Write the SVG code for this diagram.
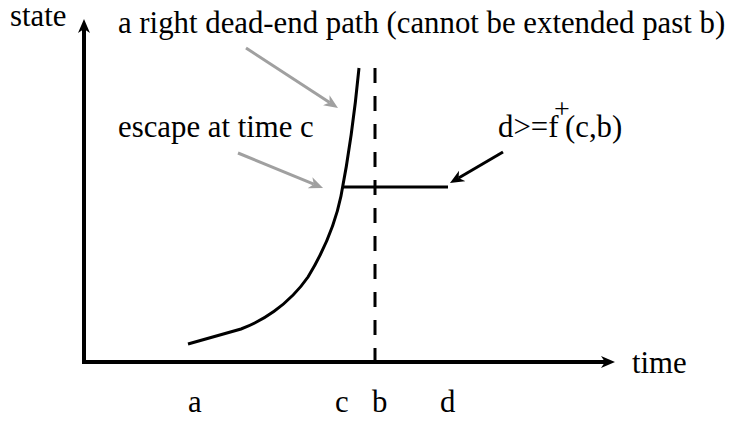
<svg xmlns="http://www.w3.org/2000/svg" width="731" height="423" viewBox="0 0 731 423">
<style>
text { font-family: 'Liberation Serif', 'Times New Roman', Times, serif; font-size: 30.8px; fill: #000; }
.ax { stroke: #000; stroke-width: 4; fill: none; }
.ln { stroke: #000; stroke-width: 3; fill: none; }
.gr { stroke: #a0a0a0; stroke-width: 3; fill: none; }
</style>
<defs>
<marker id="ab" markerUnits="userSpaceOnUse" markerWidth="16" markerHeight="14" viewBox="0 -7 16 14" refX="4" refY="0" orient="auto">
<path d="M0,-6 L14,0 L0,6 L4,0 Z" fill="#000"/>
</marker>
<marker id="ag" markerUnits="userSpaceOnUse" markerWidth="16" markerHeight="14" viewBox="0 -7 16 14" refX="4" refY="0" orient="auto">
<path d="M0,-6 L14,0 L0,6 L4,0 Z" fill="#a0a0a0"/>
</marker>
</defs>
<g id="axes">
<line class="ax" x1="84" y1="364" x2="84" y2="29" marker-end="url(#ab)"/>
<line class="ax" x1="82" y1="362" x2="605" y2="362" marker-end="url(#ab)"/>
</g>
<g id="path-curve">
<path class="ln" d="M188,344 L241,329 C260,322 288,306 308,277 C322,254 335,225 341,196 C348,160 354,120 359,68"/>
</g>
<g id="barrier-b">
<line class="ln" x1="375" y1="68" x2="375" y2="362" stroke-dasharray="15 13"/>
</g>
<g id="escape-line">
<line class="ln" x1="343" y1="187" x2="448" y2="187"/>
</g>
<g id="connectors">
<line class="gr" x1="246" y1="48" x2="329.6" y2="102.5" marker-end="url(#ag)"/>
<line class="gr" x1="238" y1="153" x2="313.8" y2="184.2" marker-end="url(#ag)"/>
<line class="ln" x1="503" y1="152" x2="458.6" y2="178" marker-end="url(#ab)"/>
</g>
<g id="labels">
<text x="10" y="26">state</text>
<text x="118" y="33">a right dead-end path (cannot be extended past b)</text>
<text x="118" y="137">escape at time c</text>
<text x="498" y="137">d&gt;=f<tspan dx="-4.4" dy="-19" style="font-size:28px">+</tspan><tspan dx="-4.8" dy="19">(c,b)</tspan></text>
<text x="632" y="373">time</text>
<text x="188" y="412">a</text>
<text x="335" y="412">c</text>
<text x="372" y="412">b</text>
<text x="440" y="412">d</text>
</g>
</svg>
